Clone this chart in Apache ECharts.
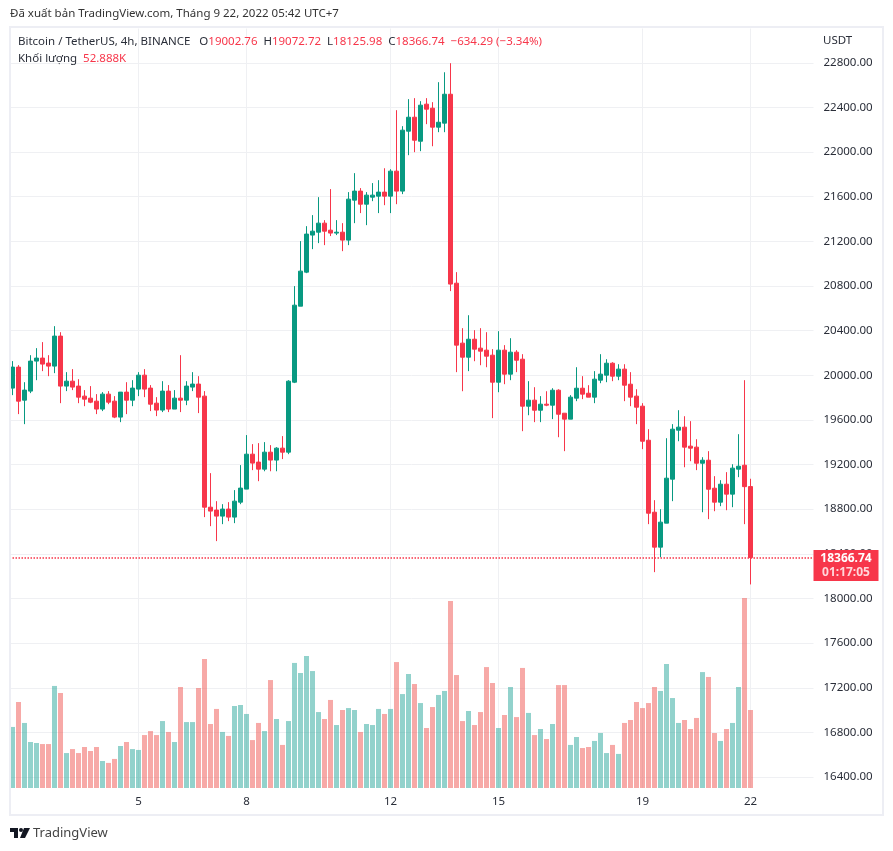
<!DOCTYPE html>
<html>
<head>
<meta charset="utf-8">
<title>BTCUSDT 4h</title>
<script src="https://cdn.jsdelivr.net/npm/echarts@6/dist/echarts.min.js"></script>
<style>
html,body{margin:0;padding:0;background:#fff}
#chart{width:893px;height:851px}
</style>
</head>
<body>
<div id="chart"></div>
<script>
var opens = [19885,20073,19777,19858,20127,20154,20109,20082,20351,19903,
19947,19903,19813,19795,19768,19697,19831,19768,19625,19849,
19777,19876,20001,19885,19750,19688,19858,19697,19795,19777,
19894,19921,19813,18818,18792,18738,18801,18729,18863,18980,
19293,19222,19159,19311,19240,19347,19311,19938,20619,20924,
21256,21282,21363,21300,21274,21282,21211,21569,21650,21533,
21596,21605,21641,21605,21829,21650,22187,22312,22097,22429,
22393,22223,22259,22518,20825,20288,20162,20323,20243,20225,
20180,19938,20225,20010,20207,20144,19723,19777,19687,19741,
19732,19866,19660,19607,19795,19884,19839,19804,19956,20001,
20108,19992,20055,19920,19813,19723,19418,18773,18460,18675,
19069,19508,19535,19365,19356,19212,19239,18988,18863,19024,
18935,19159,19194,19002.76];
var closes = [20073,19768,19867,20127,20154,20100,20082,20351,19903,19947,
19894,19804,19786,19759,19697,19831,19759,19625,19849,19777,
19885,20001,19876,19741,19688,19858,19697,19795,19777,19903,
19921,19804,18818,18783,18738,18801,18729,18872,18989,19293,
19213,19159,19311,19240,19347,19311,19947,20628,20933,21265,
21291,21363,21291,21274,21282,21211,21578,21650,21533,21614,
21614,21641,21605,21829,21650,22196,22312,22106,22420,22384,
22223,22267,22518,20817,20270,20162,20323,20234,20216,20171,
19938,20225,20010,20207,20135,19723,19777,19687,19741,19732,
19866,19651,19607,19804,19884,19831,19804,19965,20010,20108,
19992,20055,19911,19804,19714,19409,18764,18460,18684,19078,
19517,19535,19356,19347,19212,19239,18979,18863,19024,18935,
19168,19185,19002,18366.74];
var lows = [19822,19652,19562,19840,19956,20037,19992,20019,19750,19858,
19867,19750,19723,19750,19652,19679,19741,19616,19580,19652,
19723,19813,19804,19679,19634,19670,19670,19697,19670,19732,
19858,19661,18729,18648,18514,18666,18693,18675,18845,18980,
19150,19051,19140,19140,19140,19249,19293,19930,20619,20915,
21130,21184,21166,21247,21256,21112,21166,21363,21453,21345,
21560,21453,21524,21453,21533,21623,21972,21999,22008,22250,
22052,22178,22178,20754,20028,19857,20037,20126,20090,20072,
19616,19848,19920,19956,20028,19499,19642,19580,19580,19723,
19607,19445,19320,19607,19768,19786,19804,19750,19929,19938,
19947,19956,19768,19723,19562,19338,18666,18236,18370,18675,
18872,19409,19176,19230,19150,18773,18711,18782,18827,18791,
18818,19087,18666,18125.98];
var highs = [20127,20091,19938,20180,20243,20297,20180,20440,20386,20028,
20055,19965,19867,19903,19831,19849,19858,19813,19849,19938,
19956,20028,20055,19912,19804,19947,19912,19867,20180,19947,
20028,19992,19858,19123,18872,18845,18863,18971,19195,19464,
19383,19392,19401,19374,19356,19455,19956,20799,21202,21336,
21435,21596,21390,21668,21390,21363,21641,21811,21677,21641,
21722,21748,21855,21846,22375,22232,22474,22483,22456,22483,
22447,22626,22715,22796,20924,20422,20538,20404,20422,20386,
20234,20395,20270,20332,20225,20189,19947,19893,19813,19857,
19884,19875,19660,19822,20072,19992,19911,20037,20189,20144,
20117,20099,20099,20028,19875,19750,19517,18881,18800,19436,
19562,19687,19633,19589,19427,19266,19320,19096,19060,19132,
19203,19472,19956,19072.72];
// volume in thousands
var volumes = [41.4,58.3,44.1,31.2,30.5,29.8,29.8,69.2,64.4,23.7,
26.4,23.7,27.8,25.1,27.8,18.3,17.0,19.7,28.5,31.2,
26.4,25.8,35.9,38.6,35.9,45.4,38.0,31.2,68.5,44.7,
44.7,67.8,87.5,43.4,53.6,38.0,35.3,55.6,56.3,50.2,
32.5,44.1,38.6,73.2,46.8,29.2,45.4,84.8,78.0,89.5,
79.3,51.5,46.8,59.7,42.7,52.9,54.2,52.9,38.0,43.4,
42.7,53.6,50.2,53.6,85.4,63.7,77.3,70.5,57.6,40.7,
54.9,63.1,65.8,126.8,76.6,45.4,52.2,42.7,51.5,82.0,
71.2,40.7,49.5,68.5,48.1,81.4,50.9,35.9,40.0,33.2,
43.4,69.8,69.8,29.2,34.6,27.1,27.8,31.9,37.3,23.7,
29.2,23.1,44.1,46.1,58.3,54.2,57.6,68.5,65.8,84.1,
61.0,44.1,46.1,40.0,47.5,78.6,75.3,37.3,31.9,40.0,
44.1,68.5,128.8,52.888];
var priceTicks = [16400,16800,17200,17600,18000,18400,18800,19200,19600,20000,20400,20800,21200,21600,22000,22400,22800];
var dayIndex = [21,39,63,81,105,123];
var dayLabels = ['5','8','12','15','19','22'];
var lastPrice = 18366.74;
var lastVolume = 52.888;

var upColor = '#089981', downColor = '#F7364A';
var textColor = '#2A2E39';
var uiFont = '"Noto Sans", sans-serif';

// ten empty slots keep the right margin TradingView leaves after the last bar
var categories = [];
for (var i = 0; i < opens.length + 10; i++) {
    var pos = dayIndex.indexOf(i);
    categories.push(pos >= 0 ? dayLabels[pos] : '');
}
var candleData = [], volumeData = [];
for (var j = 0; j < opens.length; j++) {
    candleData.push([opens[j], closes[j], lows[j], highs[j]]);
    volumeData.push({
        value: volumes[j],
        itemStyle: { color: closes[j] >= opens[j] ? 'rgba(38,166,154,0.5)' : 'rgba(239,83,80,0.5)' }
    });
}
function isDay(index) { return dayIndex.indexOf(index) >= 0; }

var myChart = echarts.init(document.getElementById('chart'), null, { renderer: 'canvas' });
var gridLine = { color: '#EFF0F3', width: 1 };
var option = {
    animation: false,
    backgroundColor: '#fff',
    textStyle: { fontFamily: uiFont },
    title: [
        {
            left: 10, top: 8, padding: 0,
            text: 'Đã xuất bản TradingView.com, Tháng 9 22, 2022 05:42 UTC+7',
            textStyle: { fontFamily: uiFont, fontSize: 11.5, fontWeight: 'normal', color: '#333' }
        },
        {
            left: 18, top: 36, padding: 0,
            text: 'Bitcoin / TetherUS, 4h, BINANCE   O{r|19002.76}  H{r|19072.72}  L{r|18125.98}  C{r|18366.74}  {r|−634.29 (−3.34%)}',
            textStyle: {
                fontFamily: uiFont, fontSize: 11.5, fontWeight: 'normal', color: textColor,
                rich: { r: { color: downColor, fontFamily: uiFont, fontSize: 11.5 } }
            }
        },
        {
            left: 18, top: 53, padding: 0,
            text: 'Khối lượng  {r|52.888K}',
            textStyle: {
                fontFamily: uiFont, fontSize: 11.5, fontWeight: 'normal', color: textColor,
                rich: { r: { color: downColor, fontFamily: uiFont, fontSize: 11.5 } }
            }
        },
        {
            left: 823, top: 35, padding: 0,
            text: 'USDT',
            textStyle: { fontFamily: uiFont, fontSize: 11.5, fontWeight: 'normal', color: textColor }
        }
    ],
    grid: { left: 9.5, top: 28.5, width: 804, height: 759.5, containLabel: false },
    xAxis: {
        type: 'category',
        data: categories,
        boundaryGap: true,
        axisLine: { show: false },
        axisTick: { show: false },
        axisLabel: {
            interval: isDay, margin: 8, color: textColor, fontSize: 11.5, fontFamily: uiFont, hideOverlap: false
        },
        splitLine: { show: true, interval: isDay, alignWithLabel: true, lineStyle: gridLine }
    },
    yAxis: [
        {
            type: 'value', position: 'right', min: 16302, max: 23107, scale: true,
            axisLine: { show: false },
            axisTick: { show: false, customValues: priceTicks },
            axisLabel: {
                customValues: priceTicks, margin: 10, color: textColor, fontSize: 11.5, fontFamily: uiFont,
                formatter: function (v) { return v.toFixed(2); }
            },
            splitLine: { show: true, lineStyle: gridLine }
        },
        { type: 'value', show: false, min: 0, max: 515, splitLine: { show: false } }
    ],
    series: [
        {
            name: 'Khối lượng', type: 'bar', yAxisIndex: 1, barWidth: 5, data: volumeData, z: 2,
            markLine: {
                silent: true, symbol: 'none', z: 6,
                lineStyle: { width: 0, opacity: 0 },
                label: {
                    show: true, position: 'end', distance: 0, formatter: '52.888K',
                    backgroundColor: '#EF5350', color: '#fff', fontFamily: uiFont, fontSize: 12, fontWeight: 'bold',
                    padding: [2, 5], width: 49, align: 'center', lineHeight: 13
                },
                data: [{ yAxis: lastVolume }]
            }
        },
        {
            name: 'BTCUSDT', type: 'candlestick', barWidth: 5, data: candleData, z: 3,
            itemStyle: {
                color: upColor, color0: downColor,
                borderColor: upColor, borderColor0: downColor, borderWidth: 1
            },
            markLine: {
                silent: true, symbol: 'none', z: 6,
                lineStyle: { color: downColor, type: [1.5, 1.5], width: 1.5, opacity: 1 },
                label: {
                    show: true, position: 'end', distance: 0, offset: [0, 8],
                    formatter: '{a|18366.74}\n{b|01:17:05}',
                    backgroundColor: downColor, padding: [2, 5, 1, 5],
                    rich: {
                        a: { color: '#fff', fontFamily: uiFont, fontSize: 12, fontWeight: 'bold', lineHeight: 14, width: 55, align: 'center' },
                        b: { color: '#FFD6DA', fontFamily: uiFont, fontSize: 12, fontWeight: 'bold', lineHeight: 14, width: 55, align: 'center' }
                    }
                },
                data: [{ yAxis: lastPrice }]
            }
        }
    ],
    graphic: [
        {
            type: 'rect', z: 10, silent: true,
            shape: { x: 10, y: 27, width: 873, height: 788 },
            style: { fill: 'transparent', stroke: '#EDEEF4', lineWidth: 2 }
        },
        { type: 'polygon', z: 10, silent: true, shape: { points: [[10, 828], [18, 828], [18, 838], [14, 838], [14, 832], [10, 832]] }, style: { fill: '#131722' } },
        { type: 'circle', z: 10, silent: true, shape: { cx: 21, cy: 830, r: 2 }, style: { fill: '#131722' } },
        { type: 'polygon', z: 10, silent: true, shape: { points: [[24, 828], [30, 828], [25, 838], [20, 838]] }, style: { fill: '#131722' } },
        {
            type: 'text', z: 10, silent: true, x: 33, y: 827,
            style: { text: 'TradingView', font: '13px ' + uiFont, fill: '#444' }
        }
    ]
};
myChart.setOption(option);
</script>
</body>
</html>
